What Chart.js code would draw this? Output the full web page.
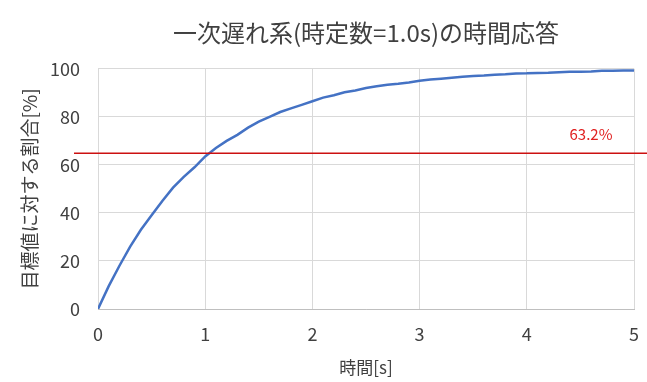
<!DOCTYPE html>
<html>
<head>
<meta charset="utf-8">
<script src="https://cdn.jsdelivr.net/npm/chart.js@4/dist/chart.umd.min.js"></script>
<style>
  html, body { margin: 0; padding: 0; background: #fff; }
  #chart { display: block; }
</style>
</head>
<body>
<canvas id="chart" width="647" height="382"></canvas>
<script>
// time [s]
var times = [0.0, 0.1, 0.2, 0.3, 0.4, 0.5, 0.6, 0.7, 0.8, 0.9,
             1.0, 1.1, 1.2, 1.3, 1.4, 1.5, 1.6, 1.7, 1.8, 1.9,
             2.0, 2.1, 2.2, 2.3, 2.4, 2.5, 2.6, 2.7, 2.8, 2.9,
             3.0, 3.1, 3.2, 3.3, 3.4, 3.5, 3.6, 3.7, 3.8, 3.9,
             4.0, 4.1, 4.2, 4.3, 4.4, 4.5, 4.6, 4.7, 4.8, 4.9, 5.0];
// response [%]
var response = [0, 9.5, 18, 26, 33, 39, 45, 50.5, 55, 59,
                63.5, 67, 70, 72.5, 75.5, 78, 80, 82, 83.5, 85,
                86.5, 88, 89, 90.2, 91, 92, 92.7, 93.4, 93.8, 94.3,
                95, 95.5, 95.9, 96.3, 96.7, 97, 97.2, 97.5, 97.7, 98,
                98.1, 98.3, 98.4, 98.6, 98.8, 98.8, 98.9, 99.2, 99.2, 99.3, 99.3];
var xTicks = [0, 1, 2, 3, 4, 5];
var yTicks = [0, 20, 40, 60, 80, 100];
var markValue = 65;
var markLabel = "63.2%";

var font = '"Noto Sans CJK JP", "Noto Sans", sans-serif';
var textColor = '#404040';

var points = times.map(function(t, i) { return { x: t, y: response[i] }; });

// horizontal red reference line, runs past the plot on both sides
var markLine = {
    id: 'markLine',
    afterDraw: function(chart) {
        var ctx = chart.ctx;
        var y = Math.round(chart.scales.y.getPixelForValue(markValue));
        ctx.save();
        ctx.fillStyle = '#cc1010';
        ctx.fillRect(74, y - 0.5, chart.width - 74, 1.5);
        ctx.fillStyle = '#e02020';
        ctx.font = '15px ' + font;
        ctx.textAlign = 'center';
        ctx.textBaseline = 'middle';
        ctx.fillText(markLabel, 591, y - 19);
        ctx.restore();
    }
};

var ctx = document.getElementById('chart').getContext('2d');
new Chart(ctx, {
    type: 'line',
    data: {
        datasets: [{
            data: points,
            borderColor: '#4472c4',
            borderWidth: 2.5,
            pointRadius: 0,
            tension: 0,
            fill: false
        }]
    },
    options: {
        responsive: false,
        animation: false,
        layout: { padding: { top: 0, right: 13, bottom: 0, left: 0 } },
        plugins: {
            legend: { display: false },
            tooltip: { enabled: false },
            title: {
                display: true,
                fullSize: false,
                text: '一次遅れ系(時定数=1.0s)の時間応答',
                color: textColor,
                font: { family: font, size: 24, weight: 'normal' },
                padding: { top: 18, bottom: 22 }
            }
        },
        scales: {
            x: {
                type: 'linear',
                min: 0,
                max: 5,
                afterBuildTicks: function(scale) {
                    scale.ticks = xTicks.map(function(v) { return { value: v }; });
                },
                afterFit: function(scale) {
                    scale.height = 73;
                    scale.paddingLeft = 0;
                    scale.paddingRight = 0;
                },
                grid: { color: '#d9d9d9', drawTicks: false },
                border: { color: '#bfbfbf' },
                ticks: {
                    color: textColor,
                    padding: 14,
                    maxRotation: 0,
                    font: { family: font, size: 18 }
                },
                title: {
                    display: true,
                    text: '時間[s]',
                    color: textColor,
                    font: { family: font, size: 17 },
                    padding: { top: 4, bottom: 4 }
                }
            },
            y: {
                min: 0,
                max: 100,
                afterBuildTicks: function(scale) {
                    scale.ticks = yTicks.map(function(v) { return { value: v }; });
                },
                afterFit: function(scale) { scale.width = 98; },
                grid: { color: '#d9d9d9', drawTicks: false },
                border: { display: false },
                ticks: {
                    color: textColor,
                    padding: 18,
                    font: { family: font, size: 18 }
                },
                title: {
                    display: true,
                    text: '目標値に対する割合[%]',
                    color: textColor,
                    font: { family: font, size: 19 },
                    padding: { top: 18, bottom: 4 }
                }
            }
        }
    },
    plugins: [markLine]
});
</script>
</body>
</html>
